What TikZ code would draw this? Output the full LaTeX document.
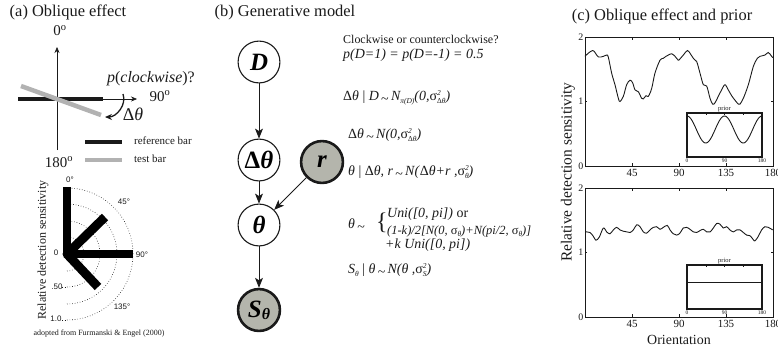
\documentclass[tikz,border=0pt]{standalone}
\usepackage{fontspec}
\setmainfont{Liberation Serif}
\newfontfamily\plotsans{Liberation Sans}
\usetikzlibrary{arrows.meta}
\newcommand{\fsz}[1]{\fontsize{#1}{#1}\selectfont}
\newcommand{\lo}[1]{\raisebox{-0.45ex}{\fsz{7.5}#1}}
\newcommand{\vsq}[1]{\textup{σ}\rlap{\raisebox{0.85ex}{\fsz{7.5}2}}\lo{#1}}
\newcommand{\dist}{\,\raisebox{-0.4ex}{\textup{\textasciitilde}}\,}
\definecolor{ink}{HTML}{1A1A1A}
\definecolor{testgray}{HTML}{B2B2B2}
\definecolor{obsgray}{HTML}{B4B5AC}
\tikzset{
  ttl/.style={font=\fsz{16.5},text=ink,inner sep=0pt},
  lbl/.style={font=\fsz{15},text=ink,inner sep=0pt},
  var/.style={circle,draw=ink,line width=1.1pt,fill=white,minimum size=42pt,inner sep=0pt,font=\fsz{25}\bfseries\itshape},
  obs/.style={var,fill=obsgray,line width=2.6pt},
  fl/.style={-{Stealth[length=10pt,width=8pt,inset=2.5pt]},draw=ink,line width=0.9pt},
  ax/.style={-{Stealth[length=6pt,width=5pt]},draw=ink,line width=0.5pt},
  refbar/.style={draw=ink,line width=4.5pt},
  tstbar/.style={draw=testgray,line width=4.5pt},
  sens/.style={draw=black,line width=9pt},
  ring/.style={draw=ink,dotted,line width=0.6pt},
  pl/.style={font=\plotsans\fsz{8},text=ink,inner sep=0pt},
  eq/.style={anchor=west,inner sep=0pt,font=\fsz{14}\itshape,text=ink},
  frm/.style={draw=ink,line width=1pt},
  crv/.style={draw=ink,line width=0.9pt,smooth,tension=0.55},
  tk/.style={font=\fsz{11},text=ink,inner sep=0pt},
  itk/.style={font=\fsz{5.5},text=ink,inner sep=0pt},
}
\begin{document}
\begin{tikzpicture}[x=1bp,y=-1bp]
\useasboundingbox (0,0) rectangle (778,347);

% (a) oblique effect
\node[ttl] (ta) at (68,12) {(a) Oblique effect};
\draw[ax] (57,150) -- (57,47);
\draw[ax] (18,99) -- (137,99);
\draw[refbar] (18,99) -- (103,99);
\draw[tstbar] (21,86) -- (101,115);
\node[lbl] (d0) at (60,31) {0\textsuperscript{o}};
\node[lbl] (d90) at (160,96) {90\textsuperscript{o}};
\node[lbl] (d180) at (59,162) {180\textsuperscript{o}};
\node[lbl,font=\fsz{16}] (pcw) at (151,79) {\textit{p}(\textit{clockwise})?};
\draw[-{Stealth[length=7pt,width=6pt]},draw=ink,line width=1.3pt] (123,94) to[out=-70,in=0] (105,117);
\node[lbl,font=\fsz{18}] (dth0) at (133,114) {\textup{Δ}\textit{θ}};
\draw[refbar] (85,142) -- (122,142);
\draw[tstbar] (85,160) -- (122,160);
\node[lbl,font=\fsz{11},anchor=west] (lref) at (134,141) {reference bar};
\node[lbl,font=\fsz{11},anchor=west] (ltst) at (134,159) {test bar};

% polar plot after Furmanski & Engel
\coordinate (po) at (67,254);
\foreach \r in {17,33,50,66}
  \draw[ring] (67,254+\r) arc[start angle=90,end angle=-90,radius=\r];
\draw[ring] (62,287) -- (67,287);
\draw[ring] (62,320) -- (67,320);
\draw[sens] (po) -- (67,187);
\draw[sens] (po) -- (133,254);
\draw[sens] (po) -- (105,217);
\draw[sens] (po) -- (98,287);
\fill[black] (po) circle (4.5);
\node[pl] (p0) at (70,180) {0°};
\node[pl] (p45) at (124,202) {45°};
\node[pl] (p90) at (142,255) {90°};
\node[pl] (p135) at (122,307) {135°};
\node[pl] (r0) at (56,253) {0};
\node[pl] (r50) at (57,287) {.50};
\node[pl] (r100) at (56,319) {1.0};
\node[lbl,font=\fsz{12},rotate=90] (ya) at (43,250) {Relative detection sensitivity};
\node[lbl,font=\fsz{8}] (src) at (99,334) {adopted from Furmanski \& Engel (2000)};

% (b) generative model
\node[ttl] (tb) at (285,13) {(b) Generative model};
\foreach \name/\lab/\y in {D/D/62, dth/{\textup{Δ}θ}/160, th/θ/225}
  \node[var] (\name) at (259,\y) {\lab};
\node[obs] (r) at (322,162) {r};
\node[obs] (S) at (259,310) {S\raisebox{-0.15ex}{\fsz{16}θ}};
\draw[fl] (D) -- (dth);
\draw[fl] (dth) -- (th);
\draw[fl] (r) -- (th);
\draw[fl] (th) -- (S);

\node[eq,font=\fsz{12}] (q1) at (343,39) {Clockwise or counterclockwise?};
\node[eq] (q2) at (343,55) {p(D=1) = p(D=-1) = 0.5};
\node[eq] (q3) at (343,98) {\textup{Δ}θ \textup{|} D\dist N\lo{π(D)}(0,\vsq{\textup{Δ}θ})};
\node[eq] (q4) at (348,135) {\textup{Δ}θ\dist N(0,\vsq{\textup{Δ}θ})};
\node[eq] (q5) at (348,172) {θ \textup{|} \textup{Δ}θ, r\dist N(\textup{Δ}θ+r ,\vsq{θ})};
\node[eq] (q6) at (348,225) {θ\dist};
\node[anchor=west,inner sep=0pt,font=\fsz{24},text=ink] (brace) at (376,223) {\{};
\node[eq] (q6a) at (387,214) {Uni([0, pi]) \textup{or}};
\node[eq,font=\fsz{12.5}\itshape] (q6b) at (387,231) {(1-k)/2[N(0, \textup{σ}\lo{θ})+N(pi/2, \textup{σ}\lo{θ})]};
\node[eq] (q6c) at (385,245) {+k Uni([0, pi])};
\node[eq] (q7) at (348,270) {S\lo{θ} \textup{|} θ\dist N(θ ,\vsq{S})};

% (c) oblique effect and prior
\node[ttl] (tc) at (662,16) {(c) Oblique effect and prior};
\node[lbl,font=\fsz{15.5},rotate=90] (yc) at (568,172) {Relative detection sensitivity};
\node[lbl,font=\fsz{14}] (xc) at (679,340) {Orientation};
\foreach \oy in {166,317} {
  \begin{scope}[shift={(585,\oy)},x=1.04444bp,y=64.5bp]
    \draw[frm] (0,0) rectangle (180,2);
    \foreach \d in {45,90,135} {
      \draw[ink,line width=0.5pt] (\d,0) -- (\d,0.04) (\d,2) -- (\d,1.96);
      \node[tk] at (\d,-0.1) {\d};
    }
    \node[tk] at (180,-0.1) {180};
    \draw[ink,line width=0.5pt] (0,1) -- (2,1) (180,1) -- (178,1);
    \foreach \v in {0,1,2}
      \node[tk,anchor=east,font=\fsz{10}] at (-1.5,\v) {\v};
  \end{scope}
}
\begin{scope}[shift={(585,166)},x=1.04444bp,y=64.5bp]
  \draw[crv] plot coordinates {(0,1.70) (3.2,1.75) (7.3,1.79) (9.6,1.76) (12.8,1.69) (17.6,1.70) (20.7,1.72) (22.3,1.69) (25.5,1.44) (28.7,1.26) (31.9,1.05) (33.5,1.00) (36.7,1.08) (39.9,1.26) (43.1,1.33) (45.6,1.29) (47.9,1.18) (51.1,1.15) (54.2,1.05) (55.8,1.04) (58.4,1.09) (60.6,1.08) (63.8,1.20) (67.0,1.44) (71.8,1.64) (75.0,1.67) (77.5,1.70) (79.8,1.72) (83.0,1.74) (86.2,1.70) (89.3,1.64) (90.9,1.66) (94.1,1.72) (98.0,1.79) (100.5,1.75) (103.7,1.67) (106.9,1.62) (110.1,1.44) (113.3,1.26) (116.5,1.24) (119.7,1.05) (122.2,0.96) (124.5,0.98) (127.6,1.08) (130.8,1.18) (134.0,1.26) (137.2,1.18) (140.4,1.09) (143.6,1.02) (146.8,0.96) (148.4,0.96) (151.6,1.05) (156.4,1.26) (161.1,1.54) (165.0,1.67) (167.5,1.70) (172.3,1.72) (175.5,1.76) (178.7,1.70) (180,1.68)};
\end{scope}
\begin{scope}[shift={(585,317)},x=1.04444bp,y=64.5bp]
  \draw[crv] plot coordinates {(0,1.32) (4.8,1.31) (8.0,1.25) (10.5,1.19) (13.7,1.24) (17.6,1.38) (20.7,1.32) (23.9,1.29) (27.1,1.35) (30.3,1.39) (33.5,1.35) (36.7,1.33) (39.9,1.32) (43.1,1.31) (46.3,1.35) (49.5,1.43) (52.7,1.40) (55.8,1.32) (59.0,1.30) (62.2,1.35) (65.4,1.39) (68.6,1.40) (71.8,1.36) (75.0,1.39) (78.8,1.42) (81.4,1.35) (84.6,1.29) (87.8,1.27) (90.9,1.30) (94.1,1.38) (97.3,1.39) (100.5,1.36) (103.7,1.32) (106.9,1.31) (110.1,1.34) (113.3,1.36) (116.5,1.32) (119.7,1.32) (122.9,1.38) (126.0,1.45) (129.2,1.44) (132.4,1.38) (135.6,1.40) (138.8,1.35) (142.0,1.32) (145.2,1.35) (148.4,1.35) (151.6,1.31) (154.8,1.27) (158.0,1.26) (161.1,1.20) (162.7,1.18) (165.9,1.25) (169.1,1.35) (172.3,1.40) (175.5,1.39) (179.7,1.35)};
\end{scope}

% priors
\foreach \iy/\nm in {113/pa,265/pb} {
  \draw[frm,line width=1.4pt] (687,\iy) rectangle (762,\iy+44);
  \foreach \d in {0.25,0.5,0.75}
    \draw[ink,line width=0.4pt] (687+75*\d,\iy) -- (687+75*\d,\iy+1.5);
  \node[itk,font=\fsz{6.5}] (\nm) at (724.5,\iy-4) {prior};
  \node[itk] at (687,\iy+48) {0};
  \node[itk] at (724.5,\iy+48) {90};
  \node[itk] at (762,\iy+48) {180};
}
\draw[ink,line width=0.9pt] plot[domain=0:180,samples=73,smooth] ({687+\x*75/180},{129.5-13.5*cos(4*\x)});
\draw[ink,line width=0.9pt] (687,282) -- (762,282);
\end{tikzpicture}
\end{document}
